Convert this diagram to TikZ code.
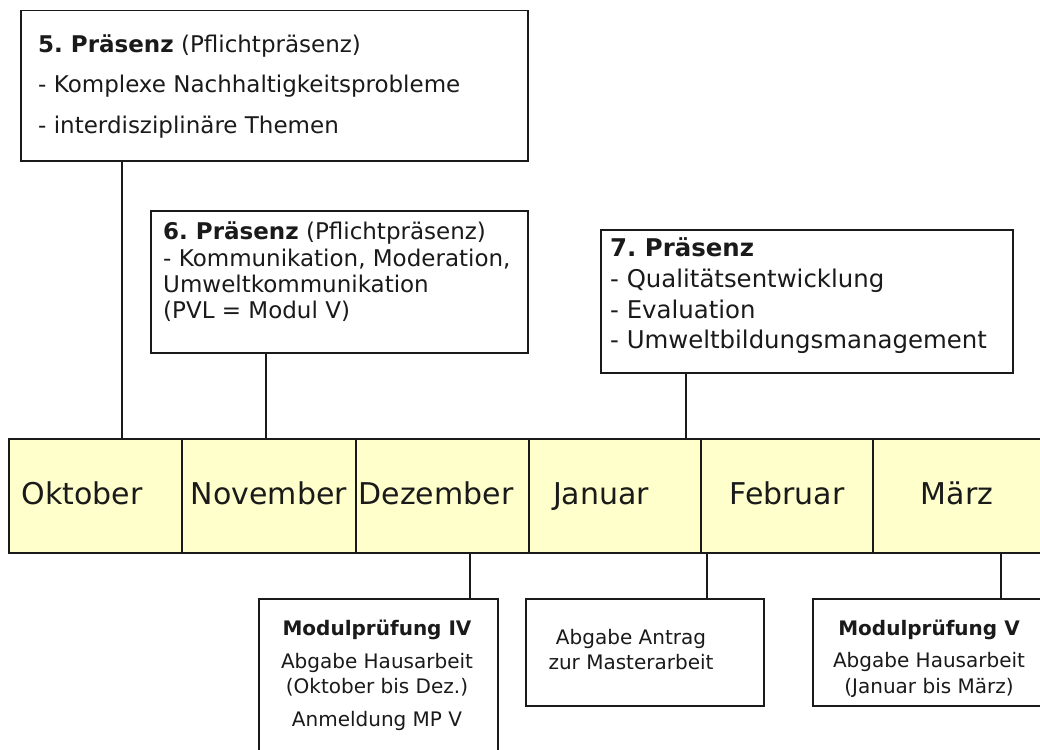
\documentclass[tikz,border=0pt]{standalone}
\usepackage{fontspec}
\setmainfont{DejaVu Sans}
\definecolor{monthfill}{HTML}{FFFFCC}
\definecolor{ink}{HTML}{1A1A1A}
\frenchspacing
\begin{document}
\begin{tikzpicture}[x=1pt,y=-1pt,
  box/.style={draw=ink, line width=1.5pt, inner sep=0pt, anchor=north west, fill=white},
  month/.style={draw=ink, line width=1.5pt, inner sep=0pt, anchor=north west, fill=monthfill, minimum height=114pt},
  mtext/.style={font=\fontsize{30}{34}\selectfont, text=ink, inner sep=0pt, anchor=base},
  btext/.style={text=ink, inner sep=0pt, align=left, anchor=west},
  ctext/.style={text=ink, inner sep=0pt, align=center},
  conn/.style={draw=ink, line width=1.5pt}]
\useasboundingbox (0,0) rectangle (1040,749);
\clip (0,0) rectangle (1040,749);
\fill[white] (0,0) rectangle (1040,749);

% months
\node[month, minimum width=173pt] (oct) at (8,438) {};
\node[month, minimum width=174pt] (nov) at (181,438) {};
\node[month, minimum width=173pt] (dec) at (355,438) {};
\node[month, minimum width=172pt] (jan) at (528,438) {};
\node[month, minimum width=172pt] (feb) at (700,438) {};
\node[month, minimum width=180pt] (mar) at (872,438) {};
\node[mtext] (toct) at (82,504) {Oktober};
\node[mtext] (tnov) at (269,504) {November};
\node[mtext] (tdec) at (436,504) {Dezember};
\node[mtext] (tjan) at (601,504) {Januar};
\node[mtext] (tfeb) at (787,504) {Februar};
\node[mtext] (tmar) at (957,504) {März};

% top boxes
\node[box, minimum width=507pt, minimum height=150pt] (b5) at (20,10) {};
\node[btext, font=\fontsize{23}{40.5}\selectfont] (t5) at (38,86)
  {\textbf{5. Präsenz} (Pflichtpräsenz)\\- Komplexe Nachhaltigkeitsprobleme\\- interdisziplinäre Themen};

\node[box, minimum width=377pt, minimum height=142pt] (b6) at (150,210) {};
\node[btext, font=\fontsize{23}{26.3}\selectfont] (t6) at (163,272)
  {\textbf{6. Präsenz} (Pflichtpräsenz)\\- Kommunikation, Moderation,\\Umweltkommunikation\\(PVL = Modul V)};

\node[box, minimum width=412pt, minimum height=143pt] (b7) at (600,229) {};
\node[btext, font=\fontsize{24.4}{30.7}\selectfont] (t7) at (610,296)
  {\textbf{7. Präsenz}\\- Qualitätsentwicklung\\- Evaluation\\- Umweltbildungsmanagement};

% bottom boxes
\node[box, minimum width=239pt, minimum height=170pt] (m4) at (258,598) {};
\node[ctext, font=\fontsize{20}{27}\selectfont] (tm4) at (377,675)
  {\textbf{Modulprüfung IV}\\[6pt]Abgabe Hausarbeit\\[-2pt](Oktober bis Dez.)\\[6pt]Anmeldung MP V};

\node[box, minimum width=238pt, minimum height=107pt] (ma) at (525,598) {};
\node[ctext, font=\fontsize{20}{25}\selectfont] (tma) at (631,650)
  {Abgabe Antrag\\zur Masterarbeit};

\node[box, minimum width=240pt, minimum height=107pt] (m5) at (812,598) {};
\node[ctext, font=\fontsize{20}{26}\selectfont] (tm5) at (929,659)
  {\textbf{Modulprüfung V}\\[6pt]Abgabe Hausarbeit\\(Januar bis März)};

% connectors
\path (b5.south west) ++(102,0) coordinate (a5);
\draw[conn] (a5) -- (a5 |- oct.north);
\path (b6.south west) ++(116,0) coordinate (a6);
\draw[conn] (a6) -- (a6 |- nov.north);
\path (b7.south west) ++(86,0) coordinate (a7);
\draw[conn] (a7) -- (a7 |- jan.north);
\path (m4.north west) ++(212,0) coordinate (a8);
\draw[conn] (a8) -- (a8 |- dec.south);
\path (ma.north west) ++(182,0) coordinate (a9);
\draw[conn] (a9) -- (a9 |- feb.south);
\path (m5.north west) ++(189,0) coordinate (a10);
\draw[conn] (a10) -- (a10 |- mar.south);
\end{tikzpicture}
\end{document}
